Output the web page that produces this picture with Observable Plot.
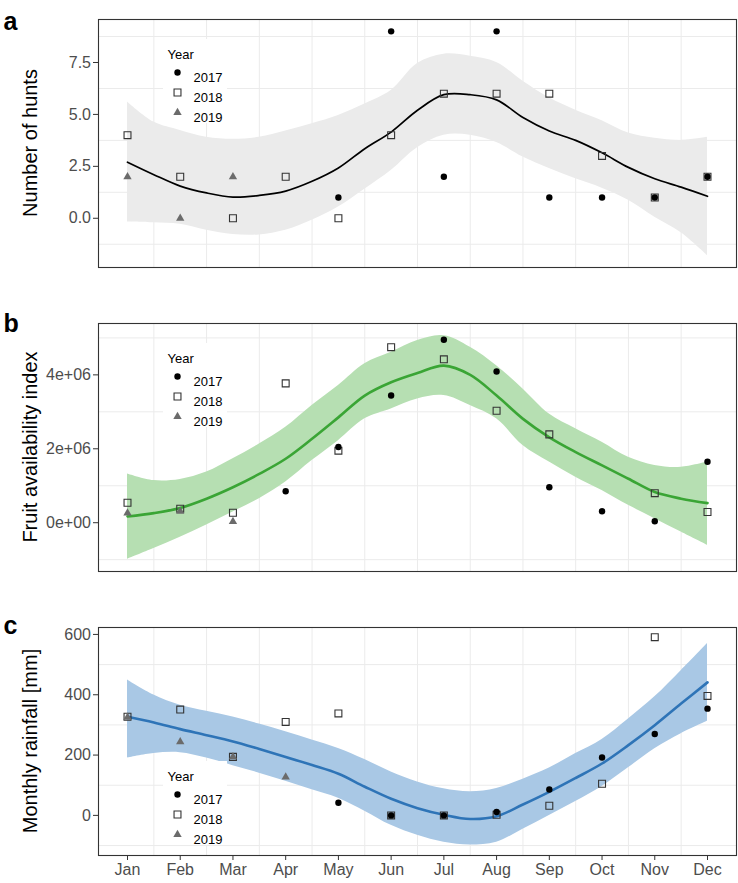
<!DOCTYPE html>
<html>
<head>
<meta charset="utf-8">
<script src="https://cdn.jsdelivr.net/npm/d3@7"></script>
<script src="https://cdn.jsdelivr.net/npm/@observablehq/plot@0.6"></script>
<style>
  html, body { margin: 0; padding: 0; background: white; }
  #chart svg { display: block; }
</style>
</head>
<body>
<div id="chart"></div>
<script>
// ---------- shared ----------
const months = [1,2,3,4,5,6,7,8,9,10,11,12];
const monthLabels = ["Jan","Feb","Mar","Apr","May","Jun","Jul","Aug","Sep","Oct","Nov","Dec"];
const years = ["2017","2018","2019"];
const smoothX = [1,1.5,2,2.5,3,3.5,4,4.5,5,5.5,6,6.5,7,7.5,8,8.5,9,9.5,10,10.5,11,11.5,12];
const gridX = [1.5,2.5,3.5,4.5,5.5,6.5,7.5,8.5,9.5,10.5,11.5];

// ---------- panel a: Number of hunts ----------
const huntsTicks = [0, 2.5, 5, 7.5];
const huntsGrid = [-1.25, 1.25, 3.75, 6.25, 8.75];
const hunts2017 = [null,null,null,null,1,9,2,9,1,1,1,2];
const hunts2018 = [4,2,0,2,0,4,6,6,6,3,1,2];
const hunts2019 = [2,0,2,null,null,null,null,null,null,null,null,null];
const huntsFit = [2.7,2.1,1.55,1.22,1.02,1.1,1.31,1.78,2.42,3.35,4.15,5.2,5.95,5.95,5.7,4.85,4.2,3.75,3.15,2.45,1.9,1.5,1.06];
const huntsHi  = [5.6,4.63,4.23,3.9,3.8,3.9,4.2,4.55,4.95,5.5,6.15,7.45,7.9,7.8,7.5,6.6,5.8,5.2,4.7,4.1,3.85,3.75,3.9];
const huntsLo  = [-0.18,-0.22,-0.29,-0.58,-0.78,-0.8,-0.58,-0.1,0.54,1.4,2.3,3.4,4.0,4.0,3.65,2.95,2.4,1.9,1.45,0.87,0.05,-0.7,-1.8];

// ---------- panel b: Fruit availability index ----------
const fruitTicks = [0, 2e6, 4e6];
const fruitTickLabels = ["0e+00","2e+06","4e+06"];
const fruitGrid = [-1e6, 1e6, 3e6, 5e6];
const fruit2017 = [null,null,null,0.85e6,2.05e6,3.44e6,4.95e6,4.09e6,0.96e6,0.31e6,0.04e6,1.65e6];
const fruit2018 = [0.54e6,0.38e6,0.27e6,3.77e6,1.95e6,4.75e6,4.42e6,3.03e6,2.39e6,null,0.8e6,0.29e6];
const fruit2019 = [0.26e6,0.31e6,0.03e6,null,null,null,null,null,null,null,null,null];
const fruitFit = [0.17,0.26,0.4,0.65,0.96,1.32,1.73,2.27,2.85,3.44,3.8,4.05,4.25,4.0,3.44,2.81,2.31,1.91,1.55,1.19,0.83,0.65,0.53];
const fruitHi  = [1.32,1.14,1.17,1.37,1.73,2.13,2.58,3.17,3.71,4.3,4.61,4.93,5.06,4.75,4.25,3.62,2.94,2.54,2.18,1.77,1.55,1.5,1.64];
const fruitLo  = [-0.99,-0.7,-0.39,-0.06,0.29,0.65,1.1,1.68,2.22,2.81,3.08,3.35,3.44,3.17,2.81,2.09,1.64,1.23,0.87,0.47,0.11,-0.25,-0.61];

// ---------- panel c: Monthly rainfall ----------
const rainTicks = [0, 200, 400, 600];
const rainGrid = [-100, 100, 300, 500];
const rain2017 = [null,null,null,null,42,0,0,11,86,192,270,354];
const rain2018 = [327,351,194,310,338,0,0,2,32,105,591,396];
const rain2019 = [325,244,194,127,null,null,null,null,null,null,null,null];
const rainFit = [327,308,286,266,245,220,194,167,138,95,55,24,2,-12,-3,36,78,124,172,233,299,371,441];
const rainHi  = [449,399,365,345,326,303,277,250,222,185,144,111,88,78,89,120,157,205,252,320,393,480,570];
const rainLo  = [190,205,208,190,165,140,113,85,57,14,-33,-66,-89,-98,-89,-46,0,46,96,158,221,271,312];

// ---------- helpers ----------
const FONT = "'Liberation Sans', Arial, Helvetica, sans-serif";
const SVGNS = "http://www.w3.org/2000/svg";
const pts = arr => months.map((m, i) => ({m, v: arr[i]})).filter(d => d.v != null);
const band = (fit, lo, hi, k = 1) => smoothX.map((x, i) => ({x, fit: fit[i] * k, lo: lo[i] * k, hi: hi[i] * k}));

const symbolStyles = [
  {symbol: "circle", r: 3.2, fill: "black", stroke: "none"},
  {symbol: "square", r: 3.9, fill: "none", stroke: "#333", strokeWidth: 1.1},
  {symbol: "triangle", r: 3.1, fill: "#6b6b6b", stroke: "none"}
];

function legendMarks(dyTop) {
  const marks = [];
  marks.push(Plot.text(["Year"], {frameAnchor: "top-left", dx: 69, dy: dyTop, text: d => d, textAnchor: "start", fontSize: 13, fill: "black"}));
  years.forEach((yr, i) => {
    const s = symbolStyles[i];
    marks.push(Plot.dot([yr], {frameAnchor: "top-left", dx: 79, dy: dyTop + 23 + 20 * i, ...s}));
    marks.push(Plot.text([yr], {frameAnchor: "top-left", dx: 95, dy: dyTop + 23 + 20 * i, text: d => d, textAnchor: "start", fontSize: 13, fill: "black"}));
  });
  return marks;
}

function legendBox(x0, y0, w, h) {
  return (index, scales, values, dims) => {
    const r = document.createElementNS(SVGNS, "rect");
    r.setAttribute("x", dims.marginLeft + x0);
    r.setAttribute("y", dims.marginTop + y0);
    r.setAttribute("width", w);
    r.setAttribute("height", h);
    r.setAttribute("fill", "white");
    return r;
  };
}

// rotated y-axis title, centred on the frame
function yTitle(label, offset) {
  return (index, scales, values, dims) => {
    const cx = dims.marginLeft - offset;
    const cy = dims.marginTop + (dims.height - dims.marginTop - dims.marginBottom) / 2;
    const t = document.createElementNS(SVGNS, "text");
    t.setAttribute("transform", `translate(${cx},${cy}) rotate(-90)`);
    t.setAttribute("text-anchor", "middle");
    t.setAttribute("dy", "0.35em");
    t.setAttribute("font-size", 20);
    t.setAttribute("fill", "black");
    t.textContent = label;
    return t;
  };
}

function panel({height, marginTop, marginBottom, yDomain, yTicks, yTickFormat, yGrid, fitData, ribbonFill, lineStroke, lineWidth,
                p2017, p2018, p2019, label, yLabel, labelDy, legendDy, showX}) {
  const marks = [
    Plot.ruleY(yGrid, {stroke: "#ebebeb", strokeWidth: 1}),
    Plot.ruleX(gridX, {stroke: "#ebebeb", strokeWidth: 1}),
    Plot.areaY(fitData, {x: "x", y1: "lo", y2: "hi", fill: ribbonFill, curve: "catmull-rom"}),
    Plot.line(fitData, {x: "x", y: "fit", stroke: lineStroke, strokeWidth: lineWidth, curve: "catmull-rom"}),
    Plot.dot(pts(p2018), {x: "m", y: "v", ...symbolStyles[1]}),
    Plot.dot(pts(p2017), {x: "m", y: "v", ...symbolStyles[0]}),
    Plot.dot(pts(p2019), {x: "m", y: "v", ...symbolStyles[2]}),
    legendBox(65, legendDy - 10, 64, 84),
    ...legendMarks(legendDy),
    Plot.frame({stroke: "#333", strokeWidth: 1.1}),
    Plot.axisY(yTicks, {tickSize: 5, tickPadding: 2.5, tickFormat: yTickFormat, fontSize: 16, fill: "#4d4d4d", stroke: "#333", label: null}),
    Plot.text([label], {frameAnchor: "top-left", dx: -95, dy: labelDy, text: d => d, textAnchor: "start", fontSize: 25, fontWeight: "bold", fill: "black"}),
    yTitle(yLabel, 68)
  ];
  if (showX) {
    marks.push(Plot.axisX(months, {tickSize: 5, tickPadding: 3, tickFormat: d => monthLabels[d - 1], fontSize: 16, fill: "#4d4d4d", stroke: "#333", label: null}));
  } else {
    marks.push(Plot.axisX([], {label: null}));
  }
  return Plot.plot({
    width: 738,
    height,
    marginLeft: 98,
    marginRight: 2,
    marginTop,
    marginBottom,
    style: {fontFamily: FONT, background: "white", overflow: "visible"},
    x: {domain: [0.45, 12.55]},
    y: {domain: yDomain},
    marks
  });
}

const chart = document.getElementById("chart");

chart.appendChild(panel({
  height: 283, marginTop: 19, marginBottom: 16,
  yDomain: [-2.37, 9.57], yTicks: huntsTicks, yTickFormat: d3.format(".1f"), yGrid: huntsGrid,
  fitData: band(huntsFit, huntsLo, huntsHi), ribbonFill: "#ebebeb", lineStroke: "black", lineWidth: 1.7,
  p2017: hunts2017, p2018: hunts2018, p2019: hunts2019,
  label: "a", yLabel: "Number of hunts", labelDy: -7, legendDy: 30, showX: false
}));

chart.appendChild(panel({
  height: 300, marginTop: 40, marginBottom: 12,
  yDomain: [-1.32e6, 5.39e6], yTicks: fruitTicks, yTickFormat: (d, i) => fruitTickLabels[i], yGrid: fruitGrid,
  fitData: band(fruitFit, fruitLo, fruitHi, 1e6), ribbonFill: "#b6dfb2", lineStroke: "#3aa535", lineWidth: 2.6,
  p2017: fruit2017, p2018: fruit2018, p2019: fruit2019,
  label: "b", yLabel: "Fruit availability index", labelDy: -9, legendDy: 30, showX: false
}));

chart.appendChild(panel({
  height: 300, marginTop: 44, marginBottom: 28,
  yDomain: [-133, 623], yTicks: rainTicks, yTickFormat: d3.format("d"), yGrid: rainGrid,
  fitData: band(rainFit, rainLo, rainHi), ribbonFill: "#a9c8e5", lineStroke: "#2e74b7", lineWidth: 2.6,
  p2017: rain2017, p2018: rain2018, p2019: rain2019,
  label: "c", yLabel: "Monthly rainfall [mm]", labelDy: -11, legendDy: 144, showX: true
}));
</script>
</body>
</html>
